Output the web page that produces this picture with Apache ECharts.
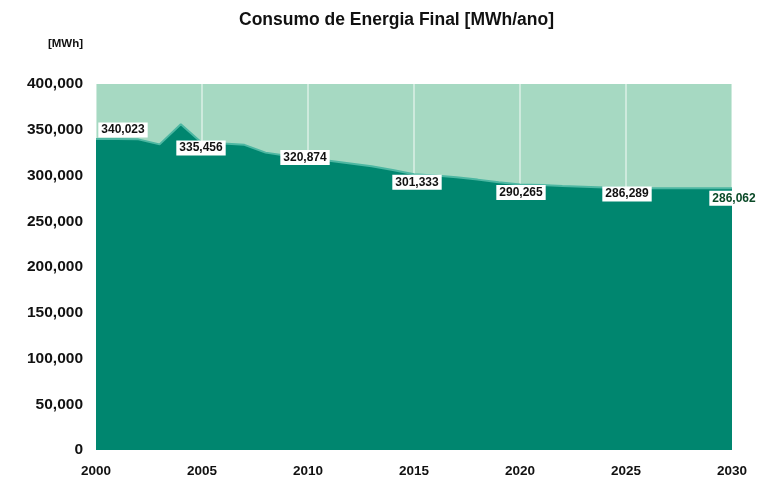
<!DOCTYPE html>
<html>
<head>
<meta charset="utf-8">
<script src="https://cdn.jsdelivr.net/npm/echarts@6/dist/echarts.min.js"></script>
<style>
  html, body { margin: 0; padding: 0; background: #fff; }
  #consumo { width: 761px; height: 487px; }
</style>
</head>
<body>
<div id="consumo"></div>
<script>
// anos (eixo x)
var anos = ['2000','2001','2002','2003','2004','2005','2006','2007','2008','2009',
            '2010','2011','2012','2013','2014','2015','2016','2017','2018','2019',
            '2020','2021','2022','2023','2024','2025','2026','2027','2028','2029','2030'];

// consumo de energia final [MWh/ano]
var consumo = [340023, 340000, 339500, 334000, 356000, 335456, 335000, 333500, 325000, 321500,
               320874, 316000, 313000, 310000, 306000, 301333, 300000, 298000, 295500, 292500,
               290265, 289500, 288500, 287800, 287000, 286289, 286200, 286150, 286100, 286080,
               286062];

// anos com etiqueta de valor
var anosEtiqueta = ['2000', '2005', '2010', '2015', '2020', '2025', '2030'];

// ticks do eixo y
var yTicks = [0, 50000, 100000, 150000, 200000, 250000, 300000, 350000, 400000];

// deslocamento das etiquetas (estilo)
var etiquetaOffset = [[27, -9], [-1, 5], [-3, 1], [3, 8], [1, 8], [1, 6], [2, 10]];

var fmt = function (v) { return Number(v).toLocaleString('en-US'); };

var myChart = echarts.init(document.getElementById('consumo'));

var etiquetas = anosEtiqueta.map(function (a, k) {
    var i = anos.indexOf(a);
    return {
        value: [i, consumo[i]],
        label: {
            offset: etiquetaOffset[k],
            color: k === anosEtiqueta.length - 1 ? '#0b4a28' : '#111'
        }
    };
});

option = {
    animation: false,
    title: {
        text: 'Consumo de Energia Final [MWh/ano]',
        left: 234,
        top: 6,
        textStyle: { fontFamily: 'Liberation Sans', fontSize: 17.5, fontWeight: 'bold', color: '#111' }
    },
    grid: {
        left: 96, right: 29, top: 84, bottom: 37,
        show: true,
        backgroundColor: '#a6d9c2',
        borderWidth: 0
    },
    xAxis: {
        type: 'category',
        data: anos,
        boundaryGap: false,
        axisLine: { show: false },
        axisTick: { show: false },
        axisLabel: {
            interval: 4,
            margin: 14,
            fontFamily: 'Liberation Sans', fontSize: 13.5, fontWeight: 'bold', color: '#111'
        },
        splitLine: {
            show: true,
            interval: 4,
            lineStyle: { color: 'rgba(255,255,255,0.45)', width: 2 }
        }
    },
    yAxis: {
        type: 'value',
        min: yTicks[0],
        max: yTicks[yTicks.length - 1],
        interval: yTicks[1] - yTicks[0],
        name: '[MWh]',
        nameLocation: 'end',
        nameGap: 34,
        nameTextStyle: {
            align: 'right', padding: [0, 13, 0, 0],
            fontFamily: 'Liberation Sans', fontSize: 11.5, fontWeight: 'bold', color: '#111'
        },
        axisLine: { show: false },
        axisTick: { show: false },
        splitLine: { show: false },
        axisLabel: {
            margin: 13,
            formatter: fmt,
            fontFamily: 'Liberation Sans', fontSize: 15.5, fontWeight: 'bold', color: '#111'
        }
    },
    series: [
        {
            name: 'Consumo',
            type: 'line',
            data: consumo,
            symbol: 'none',
            lineStyle: { color: '#4db7a2', width: 2 },
            areaStyle: { color: '#00866f', opacity: 1 }
        },
        {
            name: 'Etiquetas',
            type: 'scatter',
            data: etiquetas,
            symbolSize: 1,
            itemStyle: { color: 'rgba(0,0,0,0)', opacity: 1 },
            label: {
                show: true,
                position: 'inside',
                formatter: function (p) { return fmt(p.value[1]); },
                backgroundColor: '#fff',
                padding: [2, 3, 1, 3],
                fontFamily: 'Liberation Sans', fontSize: 12, fontWeight: 'bold'
            },
            z: 5
        }
    ]
};

myChart.setOption(option);
</script>
</body>
</html>
